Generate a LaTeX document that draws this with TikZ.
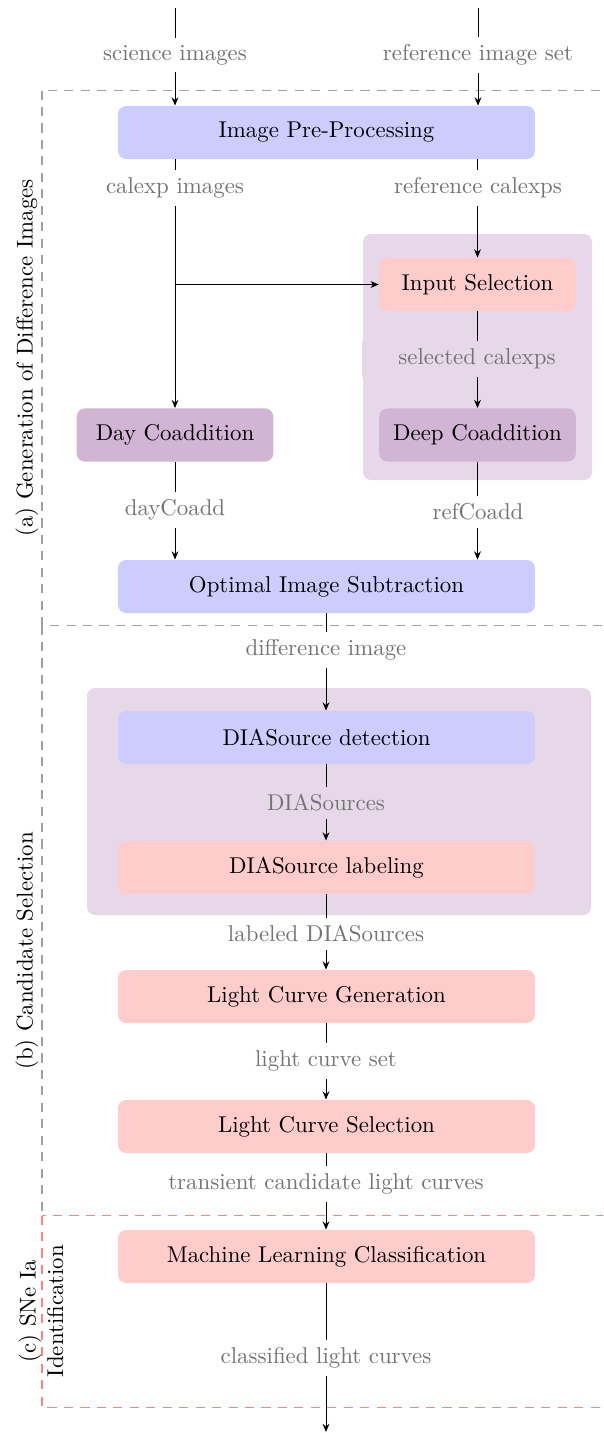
\documentclass[tikz,border=0pt]{standalone}
\usetikzlibrary{arrows.meta}
\definecolor{boxblue}{RGB}{204,204,255}
\definecolor{boxred}{RGB}{255,204,204}
\definecolor{boxviolet}{RGB}{210,180,212}
\definecolor{contviolet}{RGB}{231,216,233}
\definecolor{lblgray}{RGB}{115,115,115}
\definecolor{dashgray}{RGB}{160,160,160}
\definecolor{dashred}{RGB}{255,130,130}
\begin{document}
\begin{tikzpicture}[x=0.4375pt,y=-0.4375pt,
  flowbox/.style={rounded corners=3.5pt, minimum width=182.4pt, minimum height=23.2pt, inner sep=0pt, text=black},
  smallbox/.style={flowbox, minimum width=86pt},
  flowlbl/.style={fill=white, text=lblgray, inner sep=3.33pt},
  flowarr/.style={-{Stealth[length=3.6pt,width=3pt]}},
  stageframe/.style={line width=0.55pt, dash pattern=on 4pt off 3.2pt, draw=dashgray},
  redframe/.style={line width=0.55pt, dash pattern=on 4pt off 3.2pt, draw=dashred},
  sidelbl/.style={rotate=90, text=black, align=center}]
\useasboundingbox (0,0) rectangle (603,1433);
\clip (0,0) rectangle (603,1433);
% stage frames
\draw[stageframe] (42,90.5) rectangle (650,625.5);
\draw[stageframe] (42,625.5) -- (42,1215.5);
\draw[redframe] (42,1215.5) rectangle (650,1407.5);
% containers
\fill[contviolet, rounded corners=3.5pt] (363,234) rectangle (592,480);
\fill[contviolet, rounded corners=3.5pt] (87,688) rectangle (591,915);
% boxes
\node[flowbox, fill=boxblue] (pre) at (326.5,132.5) {Image Pre-Processing};
\node[smallbox, fill=boxred] (input) at (477.5,284.5) {Input Selection};
\node[smallbox, fill=boxviolet] (deep) at (477.5,435) {Deep Coaddition};
\node[smallbox, fill=boxviolet] (day) at (175,435) {Day Coaddition};
\node[flowbox, fill=boxblue] (opt) at (326.5,586.5) {Optimal Image Subtraction};
\node[flowbox, fill=boxblue] (det) at (326.5,737.5) {DIASource detection};
\node[flowbox, fill=boxred] (lab) at (326.5,867.5) {DIASource labeling};
\node[flowbox, fill=boxred] (lcg) at (326.5,996.5) {Light Curve Generation};
\node[flowbox, fill=boxred] (lcs) at (326.5,1126.5) {Light Curve Selection};
\node[flowbox, fill=boxred] (ml) at (326.5,1256.5) {Machine Learning Classification};
% free ends
\coordinate (sci) at (175,8);
\coordinate (ref) at (478,8);
\coordinate (out) at (326,1432);
% connectors
\draw[flowarr] (sci) -- (sci |- pre.north);
\draw[flowarr] (ref) -- (ref |- pre.north);
\draw[flowarr] (day.north |- pre.south) -- (day.north);
\draw[flowarr] (day.north |- input.west) -- (input.west);
\draw[flowarr] (input.north |- pre.south) -- (input.north);
\draw[flowarr] (input.south) -- (deep.north);
\draw[flowarr] (day.south) -- (day.south |- opt.north);
\draw[flowarr] (deep.south) -- (deep.south |- opt.north);
\draw[flowarr] (opt.south -| out) -- (det.north -| out);
\draw[flowarr] (det.south -| out) -- (lab.north -| out);
\draw[flowarr] (lab.south -| out) -- (lcg.north -| out);
\draw[flowarr] (lcg.south -| out) -- (lcs.north -| out);
\draw[flowarr] (lcs.south -| out) -- (ml.north -| out);
\draw[flowarr] (ml.south -| out) -- (out);
% connector labels
\node[flowlbl] (l1) at (175,55) {science images};
\node[flowlbl] (l2) at (478,55) {reference image set};
\node[flowlbl] (l3) at (175,188) {calexp images};
\node[flowlbl] (l4) at (478,188) {reference calexps};
\node[flowlbl, fill=contviolet, minimum width=100.6pt] (l5) at (477,359) {selected calexps};
\node[flowlbl] (l6) at (175,510) {dayCoadd};
\node[flowlbl] (l7) at (478,512) {refCoadd};
\node[flowlbl] (l8) at (326,650) {difference image};
\node[flowlbl, fill=contviolet] (l9) at (326,803) {DIASources};
\node[flowlbl, minimum width=124.25pt] (l10) at (326,934) {labeled DIASources};
\node[flowlbl] (l11) at (326,1061) {light curve set};
\node[flowlbl] (l12) at (326,1184) {transient candidate light curves};
\node[flowlbl] (l13) at (326,1358) {classified light curves};
% stage labels
\node[sidelbl] (sa) at (27,358) {(a) Generation of Difference Images};
\node[sidelbl] (sb) at (27,951) {(b) Candidate Selection};
\node[sidelbl] (sc) at (41,1311) {(c) SNe Ia\\Identification};
\end{tikzpicture}
\end{document}
